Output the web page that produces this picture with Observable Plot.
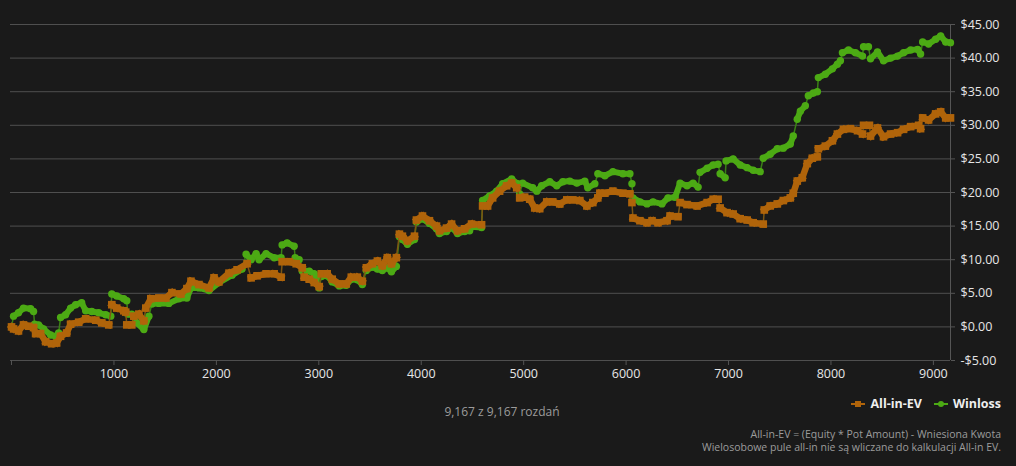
<!DOCTYPE html>
<html>
<head>
<meta charset="utf-8">
<script src="https://cdn.jsdelivr.net/npm/d3@7"></script>
<script src="https://cdn.jsdelivr.net/npm/@observablehq/plot@0.6"></script>
<style>
  html, body { margin: 0; padding: 0; background: #1a1a1a; }
  #wrap { position: relative; width: 1016px; height: 466px; background: #1a1a1a; font-family: "Open Sans", sans-serif; overflow: hidden; }
  #chart { position: absolute; left: 0; top: 0; }
  .cap { position: absolute; color: #9c9c9c; white-space: nowrap; }
  #count { left: 0; width: 1004px; text-align: center; top: 403px; font-size: 12px; }
  #legend { position: absolute; right: 15px; top: 395px; display: flex; align-items: center; gap: 12px; font-size: 12.5px; font-weight: bold; color: #eeeeee; }
  #legend span { display: flex; align-items: center; gap: 5px; }
  .note { right: 15px; text-align: right; font-size: 10.5px; line-height: 12px; }
  #note1 { top: 428px; }
  #note2 { top: 441px; }
</style>
</head>
<body>
<div id="wrap">
  <div id="chart"></div>
  <div id="count" class="cap"></div>
  <div id="legend"></div>
  <div id="note1" class="cap note"></div>
  <div id="note2" class="cap note"></div>
</div>
<script>
// ---- data (hands played, $ amount) ----
const evHands = [0,20,68,117,166,215,235,284,333,391,440,479,538,577,656,724,822,881,949,979,1027,1096,1115,1125,1174,1194,1243,1292,1311,1360,1438,1507,1566,1654,1712,1752,1830,1928,1977,2025,2123,2202,2300,2339,2397,2485,2564,2632,2642,2710,2779,2838,2857,2906,2955,3004,3024,3082,3131,3200,3268,3317,3376,3425,3464,3523,3572,3620,3669,3709,3757,3787,3816,3865,3934,3953,4012,4080,4149,4178,4247,4296,4354,4423,4491,4589,4599,4648,4697,4765,4834,4883,4932,4961,5010,5059,5108,5157,5225,5284,5353,5421,5480,5548,5617,5675,5724,5744,5793,5871,5969,6037,6057,6067,6135,6204,6253,6311,6399,6429,6507,6527,6595,6693,6791,6850,6898,6918,6986,7045,7114,7182,7241,7339,7349,7407,7476,7535,7603,7632,7671,7720,7769,7818,7867,7877,7945,8014,8063,8122,8190,8259,8308,8318,8376,8386,8454,8513,8582,8650,8709,8778,8856,8875,8895,8953,9022,9071,9120,9167];
const evValues = [0.0,-0.3,-0.6,0.3,0.1,-0.1,-1.0,-1.0,-2.2,-2.5,-2.4,-1.4,-0.9,0.4,0.7,1.2,1.0,0.6,0.3,3.3,2.8,2.4,2.2,0.3,0.3,1.6,1.9,0.9,2.8,4.2,4.3,4.3,5.1,4.9,5.7,6.8,6.3,5.8,7.3,6.7,8.0,8.5,9.4,7.3,7.6,7.9,7.9,7.4,9.7,9.7,9.4,8.8,7.4,7.1,6.6,6.0,7.9,7.9,7.1,6.4,6.4,7.4,7.4,6.8,8.8,9.4,9.8,9.1,10.3,9.4,10.3,13.8,13.5,12.8,13.5,15.9,16.5,15.8,15.0,14.3,14.7,15.3,14.3,14.6,15.3,15.2,18.0,18.0,19.2,20.2,21.0,21.4,20.7,19.2,19.3,19.0,17.7,17.6,18.6,18.6,18.3,18.9,18.9,18.8,18.0,18.5,19.2,19.9,19.9,20.2,19.9,19.8,18.5,16.2,15.8,15.5,15.8,15.5,15.8,16.5,16.4,18.5,18.2,18.0,18.5,19.0,19.0,17.7,17.0,16.8,16.1,15.9,15.5,15.3,17.4,18.0,18.3,18.8,19.2,19.9,21.7,22.2,24.3,25.1,25.3,26.5,26.9,27.7,28.7,29.4,29.5,29.2,28.7,30.0,30.0,28.4,29.6,28.3,28.7,28.9,29.4,29.8,30.0,29.5,31.1,30.8,31.7,32.0,31.1,31.1];

const wlHands = [0,20,68,117,186,215,225,264,313,382,431,460,479,528,577,626,685,724,783,851,920,969,979,1027,1096,1125,1135,1174,1223,1292,1341,1370,1438,1536,1634,1712,1752,1830,1928,2025,2153,2251,2290,2339,2388,2417,2485,2564,2632,2642,2691,2759,2769,2808,2838,2906,2955,3004,3024,3082,3131,3200,3268,3317,3376,3425,3464,3523,3572,3620,3669,3709,3757,3787,3816,3865,3934,3953,4012,4080,4149,4178,4247,4296,4354,4423,4472,4491,4589,4599,4667,4736,4795,4883,4942,4961,4990,5088,5128,5176,5255,5323,5382,5450,5519,5597,5626,5695,5724,5793,5871,5969,6037,6057,6067,6135,6204,6263,6350,6409,6478,6527,6595,6654,6703,6722,6791,6850,6898,6918,6967,6976,7045,7114,7182,7241,7309,7339,7407,7476,7535,7603,7632,7671,7701,7750,7779,7828,7867,7877,7945,8014,8063,8092,8112,8171,8239,8308,8318,8366,8386,8454,8513,8582,8650,8709,8778,8846,8875,8895,8953,9022,9071,9120,9167];
const wlValues = [0.0,1.6,2.1,2.8,2.7,2.3,0.4,0.3,-0.3,-1.2,-1.4,-0.9,1.4,1.8,2.8,3.3,3.6,2.4,2.3,2.1,1.8,1.6,4.9,4.6,4.2,3.9,1.9,1.9,0.6,-0.4,1.6,3.4,3.5,3.5,4.2,4.3,5.8,5.8,5.4,6.6,7.7,8.6,10.8,10.0,10.9,10.0,10.9,10.3,10.3,12.2,12.5,12.0,10.3,10.0,8.3,8.3,7.9,5.8,7.5,7.6,6.7,6.1,6.2,7.1,7.0,6.3,8.4,8.9,8.6,8.4,8.8,8.2,9.0,13.4,13.0,12.3,13.0,15.6,16.1,15.4,14.6,13.9,14.2,14.8,13.9,14.2,14.3,14.9,14.8,18.8,19.5,20.2,21.3,22.0,21.3,19.8,21.4,20.7,20.2,21.0,21.6,21.0,21.6,21.7,21.4,21.7,20.7,21.3,22.8,22.5,23.1,22.8,22.8,21.3,19.2,18.6,18.3,18.6,18.3,19.2,19.3,21.4,21.0,21.4,20.8,23.0,23.6,24.1,24.2,22.8,22.2,24.7,25.0,24.1,23.7,23.3,23.1,25.1,25.7,26.5,26.6,27.2,28.4,30.9,32.1,32.9,34.4,34.8,35.0,37.1,37.6,38.4,39.1,39.6,40.8,41.2,40.8,40.3,41.7,41.7,39.9,40.9,39.6,40.0,40.3,40.8,41.2,41.3,40.6,42.4,42.1,42.8,43.3,42.4,42.3];

const xTicks = [0,1000,2000,3000,4000,5000,6000,7000,8000,9000];
const yTicks = [-5,0,5,10,15,20,25,30,35,40,45];
const totalHands = 9167;
const seriesNames = ["All-in-EV", "Winloss"];
const countText = "9,167 z 9,167 rozdań";
const noteLines = ["All-in-EV = (Equity * Pot Amount) - Wniesiona Kwota", "Wielosobowe pule all-in nie są wliczane do kalkulacji All-in EV."];

const EV_COLOR = "#b0640a", WL_COLOR = "#4caa14";
const EV_LINE = "#7d5612", WL_LINE = "#3a7f16";

const ev = evHands.map((h, i) => ({h, v: evValues[i]}));
const wl = wlHands.map((h, i) => ({h, v: wlValues[i]}));

// consecutive segments; steep steps (sudden all-in swings) are drawn thin, the rest as a dense marker band
function segments(pts) {
  const out = [];
  for (let i = 1; i < pts.length; i++) {
    const a = pts[i - 1], b = pts[i];
    const dv = Math.abs(b.v - a.v), dh = b.h - a.h;
    out.push({h1: a.h, v1: a.v, h2: b.h, v2: b.v, step: dv > 1 && dv / dh > 0.05});
  }
  return out;
}
const evSeg = segments(ev), wlSeg = segments(wl);

const fmtY = d => (d < 0 ? "-" : "") + "$" + Math.abs(d).toFixed(2);

const chart = Plot.plot({
  width: 1016,
  height: 390,
  marginLeft: 10,
  marginRight: 66,
  marginTop: 24,
  marginBottom: 30,
  style: {background: "transparent", fontFamily: "'Open Sans', sans-serif", fontSize: "12.5px", color: "#e6e6e6"},
  x: {domain: [-10, totalHands]},
  y: {domain: [-5, 45]},
  marks: [
    Plot.ruleY(yTicks, {stroke: "#4f4f4f", strokeWidth: 1}),
    Plot.ruleX([totalHands], {y1: -5, y2: 45, stroke: "#555", strokeWidth: 1}),
    Plot.axisY({ticks: yTicks, anchor: "right", tickSize: 4, tickPadding: 6, tickFormat: fmtY, stroke: "#555", fill: "#e6e6e6", label: null}),
    Plot.axisX({ticks: xTicks, anchor: "bottom", tickSize: 5, tickPadding: 4, tickFormat: d => d === 0 ? "" : String(d), stroke: "#555", fill: "#e6e6e6", label: null}),
    // Winloss
    Plot.link(wlSeg.filter(s => s.step), {x1: "h1", y1: "v1", x2: "h2", y2: "v2", stroke: WL_LINE, strokeWidth: 1.5}),
    Plot.link(wlSeg.filter(s => !s.step), {x1: "h1", y1: "v1", x2: "h2", y2: "v2", stroke: WL_COLOR, strokeWidth: 6, strokeLinecap: "round"}),
    Plot.dot(wl, {x: "h", y: "v", r: 3.7, fill: WL_COLOR, stroke: null}),
    // All-in-EV
    Plot.link(evSeg.filter(s => s.step), {x1: "h1", y1: "v1", x2: "h2", y2: "v2", stroke: EV_LINE, strokeWidth: 1.5}),
    Plot.link(evSeg.filter(s => !s.step), {x1: "h1", y1: "v1", x2: "h2", y2: "v2", stroke: EV_COLOR, strokeWidth: 6.5, strokeLinecap: "square"}),
    Plot.dot(ev, {x: "h", y: "v", r: 4.3, symbol: "square", fill: EV_COLOR, stroke: null})
  ]
});
document.getElementById("chart").appendChild(chart);

document.getElementById("count").textContent = countText;

const icon = (color, sym) => `<svg width="14" height="8" viewBox="0 0 14 8"><line x1="0" y1="4" x2="14" y2="4" stroke="${color}" stroke-width="2"/>` +
  (sym === "square" ? `<rect x="4" y="1" width="6" height="6" fill="${color}"/>` : `<circle cx="7" cy="4" r="3" fill="${color}"/>`) + `</svg>`;
document.getElementById("legend").innerHTML =
  `<span>${icon(EV_COLOR, "square")}${seriesNames[0]}</span><span>${icon(WL_COLOR, "circle")}${seriesNames[1]}</span>`;
document.getElementById("note1").textContent = noteLines[0];
document.getElementById("note2").textContent = noteLines[1];
</script>
</body>
</html>
